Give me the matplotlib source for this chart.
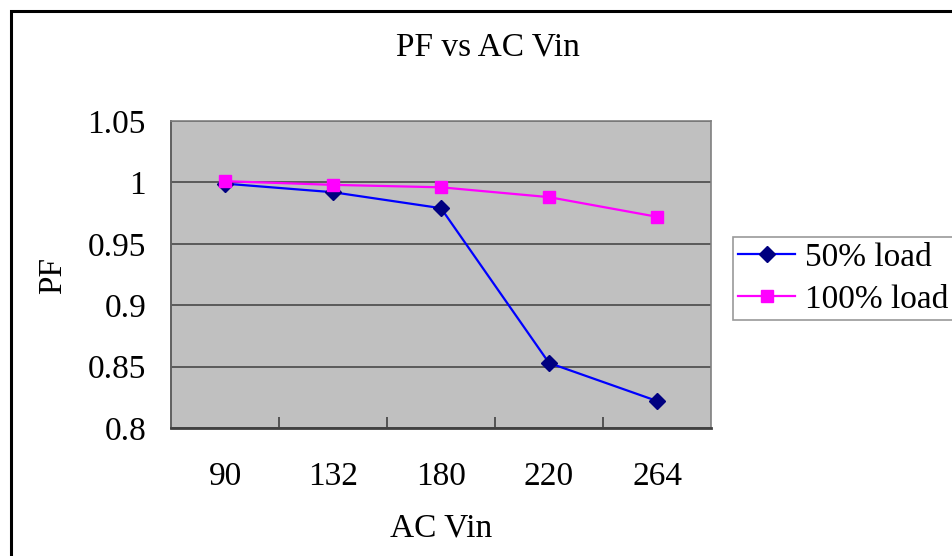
import matplotlib.pyplot as plt
from matplotlib.patches import Rectangle

# PF measurements at each input voltage
vin_labels = ['90', '132', '180', '220', '264']
pf_50_load = [0.999, 0.992, 0.979, 0.853, 0.822]
pf_100_load = [1.001, 0.998, 0.996, 0.988, 0.972]
series_names = ['50% load', '100% load']

y_ticks = [0.8, 0.85, 0.9, 0.95, 1.0, 1.05]
y_tick_labels = ['0.8', '0.85', '0.9', '0.95', '1', '1.05']

plt.rcParams['font.family'] = ['Liberation Serif', 'DejaVu Serif']
FS = 24

W, H = 952, 556
fig = plt.figure(figsize=(W / 100, H / 100), dpi=100)
fig.patch.set_facecolor('white')

# chart frame (runs off the right and bottom edges)
fig.add_artist(Rectangle((10.5 / W, -0.1), 1.2, 1 - 11 / H + 0.1,
                         transform=fig.transFigure, fill=False,
                         edgecolor='black', lw=2.2, zorder=0))

ax = fig.add_axes([171 / W, 1 - 428 / H, 540 / W, 307 / H])
ax.set_facecolor('#c0c0c0')

x = list(range(len(vin_labels)))
ax.plot(x, pf_50_load, color='#0000ff', lw=1.6, marker='D', ms=8,
        markerfacecolor='#000080', markeredgecolor='#000080',
        label=series_names[0], zorder=3)
ax.plot(x, pf_100_load, color='#ff00ff', lw=1.6, marker='s', ms=8.5,
        markerfacecolor='#ff00ff', markeredgecolor='#ff00ff',
        label=series_names[1], zorder=4)

ax.set_xlim(-0.5, len(vin_labels) - 0.5)
ax.set_ylim(0.8, 1.05)

ax.set_xticks(x)
ax.set_xticklabels(vin_labels)
ax.set_xticks([i + 0.5 for i in x[:-1]], minor=True)
ax.tick_params(axis='x', which='major', length=0, pad=24, labelsize=FS)
ax.tick_params(axis='x', which='minor', direction='in', length=8,
               width=1.2, color='#404040')

ax.set_yticks(y_ticks)
ax.set_yticklabels(y_tick_labels)
ax.tick_params(axis='y', length=0, pad=18, labelsize=FS)

ax.yaxis.grid(True, color='#5a5a5a', lw=1.4)
ax.set_axisbelow(True)

ax.spines['left'].set_color('#606060')
ax.spines['left'].set_linewidth(1.4)
ax.spines['bottom'].set_color('#404040')
ax.spines['bottom'].set_linewidth(2)
for s in ('top', 'right'):
    ax.spines[s].set_color('#808080')
    ax.spines[s].set_linewidth(1.2)

fig.text(488 / W, 1 - 47 / H, 'PF vs AC Vin', fontsize=FS,
         ha='center', va='center')
fig.text(441 / W, 1 - 528 / H, 'AC Vin', fontsize=FS,
         ha='center', va='center')
fig.text(53 / W, 1 - 276 / H, 'PF', fontsize=FS, rotation=90,
         ha='center', va='center')

leg = fig.legend(loc='upper left', mode='expand',
                 bbox_to_anchor=(733 / W, 1 - 321 / H, 260 / W, 84 / H),
                 fontsize=FS, frameon=True, fancybox=False, borderpad=0.16,
                 handlelength=1.7, handletextpad=0.3, labelspacing=0.35,
                 borderaxespad=0)
leg.get_frame().set_edgecolor('#808080')
leg.get_frame().set_linewidth(1.2)

fig.savefig('out.png', dpi=100, facecolor='white')
